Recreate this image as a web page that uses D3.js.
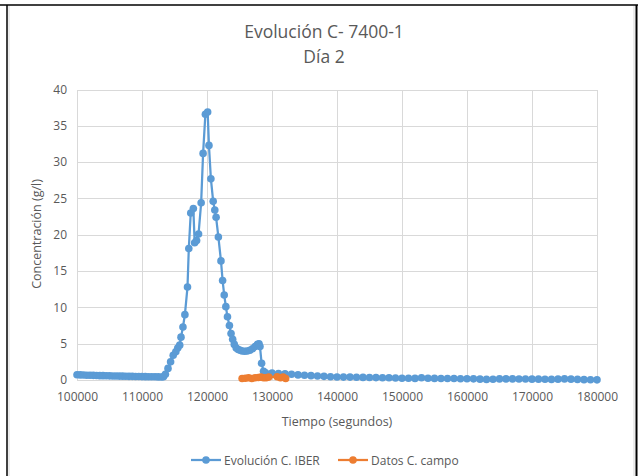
<!DOCTYPE html>
<html>
<head>
<meta charset="utf-8">
<title>Evolución C- 7400-1</title>
<script src="https://d3js.org/d3.v7.min.js"></script>
<style>
  body { margin: 0; background: #fff; }
  svg text { font-family: 'Open Sans', 'Noto Sans', sans-serif; fill: #595959; }
  .grid line { stroke: #d9d9d9; stroke-width: 1; shape-rendering: crispEdges; }
</style>
</head>
<body>
<script>
// series: Evolución C. IBER (time in s, concentration in g/l)
const iberTime = [
  100000, 100500, 101000, 101500, 102000, 102500, 103000, 103500, 104000, 104500,
  105000, 105500, 106000, 106500, 107000, 107500, 108000, 108500, 109000, 109500,
  110000, 110500, 111000, 111500, 112000, 112500, 113000,
  113300, 113600, 114000, 114400, 114800, 115200, 115500, 115800, 116000, 116300,
  116600, 117000, 117200, 117500, 117900, 118100, 118400, 118700, 119100, 119400,
  119750, 120100, 120300, 120600, 120950, 121200, 121400, 121750, 122150, 122400,
  122650, 122900, 123150, 123450, 123700, 123950, 124200, 124500, 124800, 125100,
  125400, 125800, 126200, 126600, 127000, 127400, 127750, 128000, 128150, 128400,
  128700,
  129000, 130000, 131000, 132000, 133000, 134000, 135000, 136000, 137000, 138000,
  139000, 140000, 141000, 142000, 143000, 144000, 145000, 146000, 147000, 148000,
  149000, 150000, 151000, 152000, 153000, 154000, 155000, 156000, 157000, 158000,
  159000, 160000, 161000, 162000, 163000, 164000, 165000, 166000, 167000, 168000,
  169000, 170000, 171000, 172000, 173000, 174000, 175000, 176000, 177000, 178000,
  179000, 180000
];
const iberConc = [
  0.72, 0.7, 0.68, 0.66, 0.65, 0.64, 0.62, 0.6, 0.6, 0.58,
  0.57, 0.56, 0.55, 0.54, 0.53, 0.52, 0.5, 0.5, 0.49, 0.48,
  0.47, 0.46, 0.45, 0.45, 0.44, 0.43, 0.42,
  0.45, 0.8, 1.6, 2.5, 3.4, 3.9, 4.4, 4.8, 5.9, 7.3,
  9.0, 12.8, 18.1, 23.0, 23.6, 18.9, 19.2, 20.1, 24.4, 31.2,
  36.6, 36.9, 32.3, 27.7, 24.6, 23.4, 22.4, 19.7, 16.4, 13.7,
  11.7, 10.1, 8.7, 7.5, 6.4, 5.6, 4.9, 4.4, 4.2, 4.1,
  4.0, 3.95, 4.0, 4.1, 4.3, 4.6, 4.9, 5.0, 4.6, 2.3,
  1.2,
  1.0, 0.95, 0.9, 0.85, 0.8, 0.7, 0.65, 0.6, 0.55, 0.5,
  0.45, 0.42, 0.4, 0.4, 0.38, 0.36, 0.35, 0.33, 0.3, 0.3,
  0.28, 0.25, 0.25, 0.22, 0.3, 0.25, 0.22, 0.2, 0.2, 0.2,
  0.18, 0.18, 0.16, 0.12, 0.08, 0.1, 0.15, 0.15, 0.15, 0.14,
  0.13, 0.12, 0.12, 0.1, 0.08, 0.12, 0.15, 0.12, 0.08, 0.05,
  0.03, 0.02
];
// series: Datos C. campo
const campoTime = [125400, 125900, 126400, 126900, 127400, 127900, 128300, 128700, 129100, 129500,
  130800, 131300, 131700, 132100];
const campoConc = [0.2, 0.25, 0.3, 0.2, 0.3, 0.35, 0.4, 0.3, 0.3, 0.4, 0.45, 0.3, 0.4, 0.2];

const xTicks = [100000, 110000, 120000, 130000, 140000, 150000, 160000, 170000, 180000];
const yTicks = [0, 5, 10, 15, 20, 25, 30, 35, 40];
const seriesNames = ["Evolución C. IBER", "Datos C. campo"];
const colors = ["#5b9bd5", "#ed7d31"];

const W = 638, H = 476;
const plot = { left: 77, right: 597, top: 89.5, bottom: 380 };

const svg = d3.select("body").append("svg")
  .attr("width", W).attr("height", H);

// frame
svg.append("line").attr("x1", 0).attr("x2", 638).attr("y1", 5).attr("y2", 5)
  .attr("stroke", "#000").attr("stroke-width", 1.5);
svg.append("line").attr("x1", 7).attr("x2", 7).attr("y1", 5).attr("y2", H)
  .attr("stroke", "#000").attr("stroke-width", 1.5);
svg.append("line").attr("x1", 636.5).attr("x2", 636.5).attr("y1", 5).attr("y2", H)
  .attr("stroke", "#000").attr("stroke-width", 2);
svg.append("line").attr("x1", 9).attr("x2", 9).attr("y1", 6).attr("y2", H)
  .attr("stroke", "#d9d9d9").attr("stroke-width", 1);
svg.append("line").attr("x1", 634).attr("x2", 634).attr("y1", 6).attr("y2", H)
  .attr("stroke", "#d9d9d9").attr("stroke-width", 1);

const x = d3.scaleLinear().domain([100000, 180000]).range([plot.left, plot.right]);
const y = d3.scaleLinear().domain([0, 40]).range([plot.bottom, plot.top]);

// gridlines
svg.append("g").attr("class", "grid")
  .attr("transform", `translate(0,${plot.bottom})`)
  .call(d3.axisBottom(x).tickValues(xTicks).tickSize(-(plot.bottom - plot.top)).tickFormat(""))
  .call(g => g.select(".domain").remove());
svg.append("g").attr("class", "grid")
  .attr("transform", `translate(${plot.left},0)`)
  .call(d3.axisLeft(y).tickValues(yTicks).tickSize(-(plot.right - plot.left)).tickFormat(""))
  .call(g => g.select(".domain").remove());

// axes labels
const xAxis = svg.append("g").attr("transform", `translate(0,${plot.bottom})`)
  .call(d3.axisBottom(x).tickValues(xTicks).tickSize(0).tickPadding(12).tickFormat(d3.format("d")));
xAxis.select(".domain").attr("stroke", "#d9d9d9");
xAxis.selectAll("text").style("font-size", "12px");

const yAxis = svg.append("g").attr("transform", `translate(${plot.left},0)`)
  .call(d3.axisLeft(y).tickValues(yTicks).tickSize(0).tickPadding(10));
yAxis.select(".domain").remove();
yAxis.selectAll("text").style("font-size", "12px");

// titles
svg.append("text").attr("x", 324).attr("y", 38).attr("text-anchor", "middle")
  .style("font-size", "17.5px").text("Evolución C- 7400-1");
svg.append("text").attr("x", 324).attr("y", 63).attr("text-anchor", "middle")
  .style("font-size", "17.5px").text("Día 2");
svg.append("text").attr("x", 337).attr("y", 426).attr("text-anchor", "middle")
  .style("font-size", "12.5px").text("Tiempo (segundos)");
svg.append("text").attr("transform", "translate(41,234) rotate(-90)").attr("text-anchor", "middle")
  .style("font-size", "12.5px").text("Concentración (g/l)");

// series
const iber = iberTime.map((t, i) => ({ t, c: iberConc[i] }));
const campo = campoTime.map((t, i) => ({ t, c: campoConc[i] }));
const line = d3.line().x(d => x(d.t)).y(d => y(d.c));

[iber, campo].forEach((data, k) => {
  svg.append("path").datum(data)
    .attr("d", line).attr("fill", "none")
    .attr("stroke", colors[k]).attr("stroke-width", 2.25).attr("stroke-linejoin", "round");
  svg.append("g").selectAll("circle").data(data).join("circle")
    .attr("cx", d => x(d.t)).attr("cy", d => y(d.c)).attr("r", 3.8)
    .attr("fill", colors[k]);
});

// legend
const legendX = [191, 338];
seriesNames.forEach((name, k) => {
  const g = svg.append("g").attr("transform", `translate(${legendX[k]},460)`);
  g.append("line").attr("x1", 0).attr("x2", 30).attr("stroke", colors[k]).attr("stroke-width", 2.25);
  g.append("circle").attr("cx", 15).attr("r", 3.8).attr("fill", colors[k]);
  g.append("text").attr("x", 33).attr("y", 4.5).style("font-size", "12px").text(name);
});
</script>
</body>
</html>
